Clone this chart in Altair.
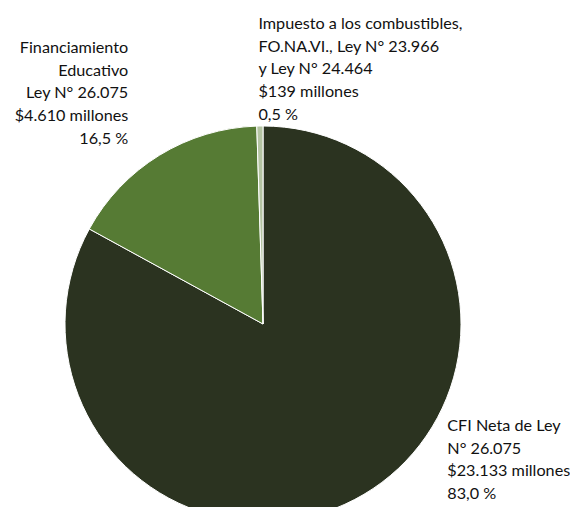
import altair as alt
import pandas as pd

# ---- data ----
categories = ["CFI Neta de Ley N° 26.075",
              "Financiamiento Educativo Ley N° 26.075",
              "Impuesto a los combustibles, FO.NA.VI., Ley N° 23.966 y Ley N° 24.464"]
values = [23133, 4610, 139]          # millones de $
order = [1, 2, 3]
labels = [
    "CFI Neta de Ley\nN° 26.075\n$23.133 millones\n83,0 %",
    "Financiamiento\nEducativo\nLey N° 26.075\n$4.610 millones\n16,5 %",
    "Impuesto a los combustibles,\nFO.NA.VI., Ley N° 23.966\ny Ley N° 24.464\n$139 millones\n0,5 %",
]
colors = ["#2b3320", "#567b34", "#b4c4a2"]

df = pd.DataFrame({"cat": categories, "value": values, "order": order, "label": labels})

CX, CY, R = 255, 316, 198
FONT = "Lato"
FS = 16.2
LH = 22.7

base = alt.Chart(df).transform_window(
    cum="sum(value)", sort=[alt.SortField("order")], frame=[None, 0]
).transform_joinaggregate(total="sum(value)").transform_calculate(
    start="(datum.cum - datum.value) / datum.total",
    end="datum.cum / datum.total",
    mid="(datum.cum - datum.value / 2) / datum.total",
)

theta_scale = alt.Scale(domain=[0, 1], range=[0, 6.283185307179586])

arc = base.mark_arc(outerRadius=R, stroke="white", strokeWidth=1).encode(
    theta=alt.Theta("start:Q", scale=theta_scale, stack=False),
    theta2="end:Q",
    color=alt.Color("cat:N", scale=alt.Scale(domain=categories, range=colors), legend=None),
    x=alt.value(CX), y=alt.value(CY),
)

def label_layer(cat, align, radius, dx, dy):
    return base.transform_filter(alt.datum.cat == cat).mark_text(
        align=align, baseline="alphabetic", radius=radius, dx=dx, dy=dy,
        font=FONT, fontSize=FS, lineHeight=LH, lineBreak="\n", color="#111111",
    ).encode(
        theta=alt.Theta("mid:Q", scale=theta_scale, stack=False),
        text="label:N",
        x=alt.value(CX), y=alt.value(CY),
    )

t_cfi = label_layer(categories[0], "left", 230, 67, -91)
t_fin = label_layer(categories[1], "right", 290, 17, -24)
t_imp = label_layer(categories[2], "left", 295, 0, 0)

chart = alt.layer(arc, t_cfi, t_fin, t_imp).properties(
    width=562, height=499,
    autosize=alt.AutoSizeParams(type="none"),
    padding=0,
    background="white",
).configure_view(stroke=None)

chart.save("out.html", embed_options={"renderer": "svg", "actions": False})
